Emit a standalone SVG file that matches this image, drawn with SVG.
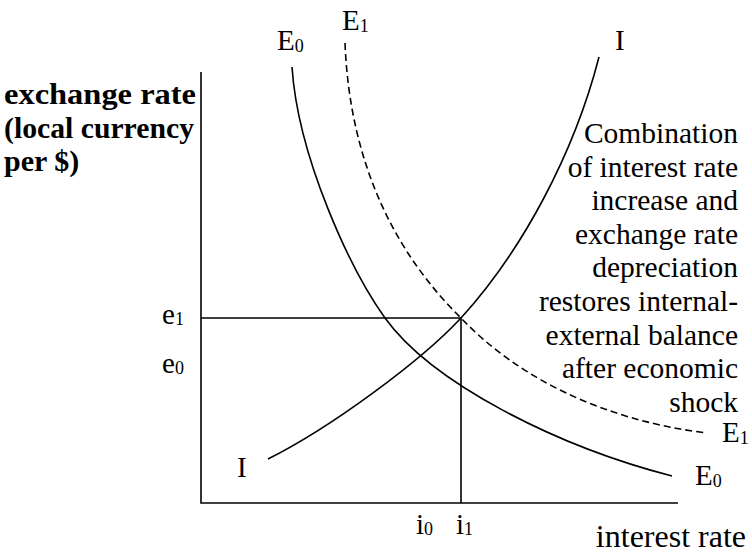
<svg xmlns="http://www.w3.org/2000/svg" width="752" height="556" viewBox="0 0 752 556">
<style>
.ln{fill:none;stroke:#000;stroke-width:1.6}
.dash{stroke-dasharray:7 4}
.t{font-family:"Liberation Serif","Times New Roman",serif;fill:#000}
.lbl{font-size:29px}
.sub{font-size:18px}
.para{font-size:29.5px}
.bold{font-weight:bold;font-size:30px}
</style>
<rect width="752" height="556" fill="#fff"/>
<g id="axes">
<path class="ln" d="M201 72 V503 H678"/>
</g>
<g id="guides">
<path class="ln" d="M201 318 H461 V503"/>
</g>
<g id="curve-I">
<path class="ln" d="M268 459 C330 428 420 362 461 318 C522 251 574 154 599 57"/>
</g>
<g id="curve-E0">
<path class="ln" d="M292 67 C298 157 350 269 385 318 C432 383 556 446 672 476"/>
</g>
<g id="curve-E1">
<path class="ln dash" d="M345 43 C350 170 400 258 461 318 C515 375 600 420 707 433"/>
</g>
<g id="labels">
<text class="t lbl" x="277" y="50">E<tspan class="sub" dy="2">0</tspan></text>
<text class="t lbl" x="342" y="30">E<tspan class="sub" dy="2">1</tspan></text>
<text class="t lbl" x="615" y="50">I</text>
<text class="t lbl" x="237" y="477">I</text>
<text class="t lbl" x="722" y="442">E<tspan class="sub" dy="2">1</tspan></text>
<text class="t lbl" x="695" y="485">E<tspan class="sub" dy="2">0</tspan></text>
<text class="t lbl" x="162" y="324">e<tspan class="sub" dy="1">1</tspan></text>
<text class="t lbl" x="162" y="373">e<tspan class="sub" dy="1">0</tspan></text>
<text class="t lbl" x="416" y="534">i<tspan class="sub" dy="1">0</tspan></text>
<text class="t lbl" x="456" y="534">i<tspan class="sub" dy="1">1</tspan></text>
<text class="t" x="746" y="547" text-anchor="end" font-size="32">interest rate</text>
</g>
<g id="y-axis-title">
<text class="t bold" x="4" y="104" textLength="192" lengthAdjust="spacingAndGlyphs">exchange rate</text>
<text class="t bold" x="4" y="138" textLength="190" lengthAdjust="spacingAndGlyphs">(local currency</text>
<text class="t bold" x="4" y="171">per $)</text>
</g>
<g id="annotation" text-anchor="end">
<text class="t para" x="738" y="143">Combination</text>
<text class="t para" x="738" y="177">of interest rate</text>
<text class="t para" x="738" y="210">increase and</text>
<text class="t para" x="738" y="244">exchange rate</text>
<text class="t para" x="738" y="277">depreciation</text>
<text class="t para" x="738" y="311">restores internal-</text>
<text class="t para" x="738" y="345">external balance</text>
<text class="t para" x="738" y="378">after economic</text>
<text class="t para" x="738" y="412">shock</text>
</g>
</svg>
